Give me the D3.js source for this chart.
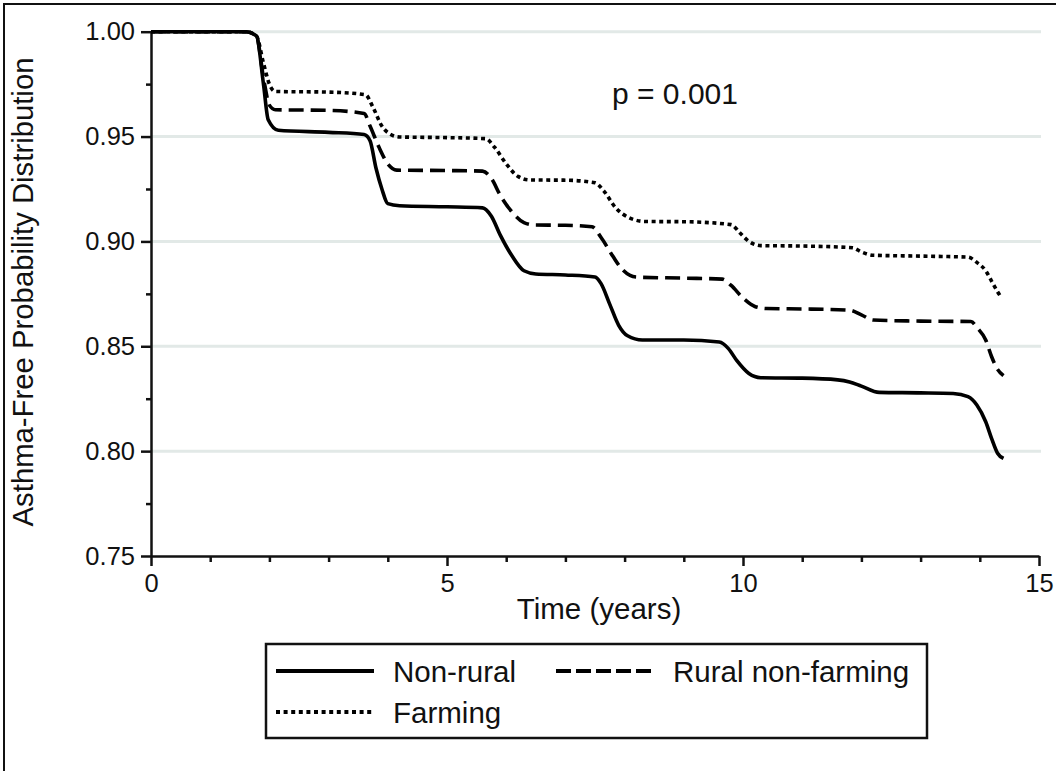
<!DOCTYPE html>
<html>
<head>
<meta charset="utf-8">
<script src="https://cdn.jsdelivr.net/npm/d3@7"></script>
<style>
  html, body { margin: 0; padding: 0; background: #fff; }
  svg { display: block; }
  text { font-family: "Liberation Sans", Arial, sans-serif; fill: #111; }
</style>
</head>
<body>
<svg id="chart" width="1056" height="771"></svg>
<script>
// ---- data ----
const seriesNames = ["Non-rural", "Rural non-farming", "Farming"];

const nonRural = [
  [0,1],[1.6,1],[1.78,0.998],[1.9,0.975],[1.98,0.958],[2.15,0.953],[3.0,0.952],[3.6,0.951],
  [3.7,0.948],[3.8,0.935],[3.9,0.925],[4.0,0.918],[4.2,0.917],[5.0,0.9165],[5.6,0.916],
  [5.75,0.912],[5.9,0.903],[6.1,0.893],[6.3,0.886],[6.5,0.8845],[7.0,0.884],[7.5,0.883],
  [7.6,0.88],[7.75,0.87],[7.9,0.86],[8.05,0.855],[8.3,0.853],[9.0,0.853],[9.6,0.852],
  [9.75,0.849],[9.9,0.843],[10.1,0.837],[10.3,0.835],[11.0,0.8348],[11.6,0.834],[11.8,0.833],
  [12.0,0.831],[12.3,0.828],[13.0,0.8278],[13.55,0.8275],[13.8,0.826],[13.95,0.822],
  [14.1,0.814],[14.2,0.806],[14.3,0.799],[14.4,0.7965]
];
const ruralNonFarming = [
  [0,1],[1.6,1],[1.78,0.998],[1.9,0.978],[2.0,0.965],[2.1,0.9628],[3.0,0.9625],[3.6,0.961],
  [3.7,0.955],[3.85,0.945],[4.0,0.937],[4.15,0.934],[5.0,0.9338],[5.6,0.9335],[5.75,0.93],
  [5.9,0.922],[6.1,0.914],[6.3,0.909],[6.5,0.9078],[7.0,0.9077],[7.45,0.907],[7.6,0.902],
  [7.8,0.893],[7.95,0.887],[8.2,0.883],[9.0,0.8825],[9.65,0.882],[9.8,0.879],[10.0,0.873],
  [10.2,0.869],[10.4,0.868],[11.0,0.8678],[11.8,0.8672],[12.0,0.865],[12.2,0.8625],
  [13.0,0.862],[13.85,0.8618],[13.95,0.859],[14.1,0.853],[14.2,0.845],[14.3,0.839],[14.4,0.836]
];
const farming = [
  [0,1],[1.6,1],[1.78,0.998],[1.9,0.985],[2.0,0.975],[2.1,0.9715],[3.0,0.9712],[3.62,0.970],
  [3.75,0.964],[3.9,0.955],[4.05,0.951],[4.2,0.9498],[5.0,0.9495],[5.65,0.949],[5.8,0.945],
  [6.0,0.937],[6.2,0.931],[6.4,0.9293],[7.0,0.9292],[7.5,0.928],[7.65,0.924],[7.85,0.916],
  [8.1,0.911],[8.35,0.9095],[9.0,0.9094],[9.8,0.908],[9.95,0.904],[10.1,0.9],[10.3,0.898],
  [11.0,0.8978],[11.85,0.897],[12.0,0.895],[12.2,0.8934],[13.0,0.893],[13.8,0.8925],
  [13.95,0.89],[14.1,0.886],[14.2,0.881],[14.3,0.876],[14.37,0.873]
];

const xTickValues = [0, 5, 10, 15];
const xMinorTicks = d3.range(0, 16, 1);
const yTickValues = [0.75, 0.80, 0.85, 0.90, 0.95, 1.00];
const yMinorTicks = [0.775, 0.825, 0.875, 0.925, 0.975];
const gridValues = [0.80, 0.85, 0.90, 0.95, 1.00];
const xTitle = "Time (years)";
const yTitle = "Asthma-Free Probability Distribution";
const pLabel = "p = 0.001";

// ---- layout ----
const svg = d3.select("#chart");
const x = d3.scaleLinear().domain([0, 15]).range([151, 1039]);
const y = d3.scaleLinear().domain([0.75, 1.0]).range([556, 31.7]);

// outer frame (top & left visible)
svg.append("rect").attr("x", 4).attr("y", 4).attr("width", 1100).attr("height", 820)
  .attr("fill", "none").attr("stroke", "#111").attr("stroke-width", 2);

// gridlines
svg.append("g").selectAll("line").data(gridValues).join("line")
  .attr("x1", x(0)).attr("x2", x(15) + 2)
  .attr("y1", d => y(d)).attr("y2", d => y(d))
  .attr("stroke", "#e2e9e7").attr("stroke-width", 3);

// minor ticks
svg.append("g").attr("transform", `translate(0,${y(0.75)})`)
  .call(d3.axisBottom(x).tickValues(xMinorTicks.filter(v => v % 5 !== 0)).tickSize(6).tickFormat(""))
  .call(g => g.select(".domain").remove())
  .call(g => g.selectAll("line").attr("stroke", "#111").attr("stroke-width", 2.5));
svg.append("g").attr("transform", `translate(${x(0)},0)`)
  .call(d3.axisLeft(y).tickValues(yMinorTicks).tickSize(5).tickFormat(""))
  .call(g => g.select(".domain").remove())
  .call(g => g.selectAll("line").attr("stroke", "#111").attr("stroke-width", 2.5));

// major axes
const xAxis = svg.append("g").attr("transform", `translate(0,${y(0.75)})`)
  .call(d3.axisBottom(x).tickValues(xTickValues).tickSize(10).tickSizeOuter(0).tickPadding(8).tickFormat(d3.format("d")));
xAxis.select(".domain").attr("stroke", "#111").attr("stroke-width", 2.5);
xAxis.selectAll("line").attr("stroke", "#111").attr("stroke-width", 2.5);
xAxis.selectAll("text").attr("font-size", 25.5).attr("font-family", "Liberation Sans, Arial, sans-serif").attr("fill", "#111");

const yAxis = svg.append("g").attr("transform", `translate(${x(0)},0)`)
  .call(d3.axisLeft(y).tickValues(yTickValues).tickSize(10).tickSizeOuter(0).tickPadding(6).tickFormat(d3.format(".2f")));
yAxis.select(".domain").attr("stroke", "#111").attr("stroke-width", 2.5);
yAxis.selectAll("line").attr("stroke", "#111").attr("stroke-width", 2.5);
yAxis.selectAll("text").attr("font-size", 25.5).attr("font-family", "Liberation Sans, Arial, sans-serif").attr("fill", "#111");

// titles
svg.append("text").attr("x", (x(0) + x(15)) / 2 + 4).attr("y", 619)
  .attr("text-anchor", "middle").attr("font-size", 29.5).text(xTitle);
svg.append("text").attr("transform", `translate(33,292) rotate(-90)`)
  .attr("text-anchor", "middle").attr("font-size", 29.3).text(yTitle);
svg.append("text").attr("x", 612).attr("y", 104).attr("font-size", 30).text(pLabel);

// lines
const styles = [
  { data: nonRural, dash: null },
  { data: ruralNonFarming, dash: "15,7" },
  { data: farming, dash: "4,3.6" }
];
const line = d3.line().x(d => x(d[0])).y(d => y(d[1])).curve(d3.curveMonotoneX);
svg.append("g").selectAll("path").data(styles).join("path")
  .attr("d", d => line(d.data))
  .attr("fill", "none").attr("stroke", "#000").attr("stroke-width", 3.6)
  .attr("stroke-dasharray", d => d.dash);

// legend
const lg = svg.append("g");
lg.append("rect").attr("x", 266).attr("y", 644).attr("width", 661).attr("height", 94)
  .attr("fill", "#fff").attr("stroke", "#111").attr("stroke-width", 2.5);
const legendItems = [
  { name: seriesNames[0], dash: null, lx: 276, ly: 671 },
  { name: seriesNames[1], dash: "15,5", lx: 556, ly: 671 },
  { name: seriesNames[2], dash: "4,3.6", lx: 276, ly: 712 }
];
legendItems.forEach(it => {
  lg.append("line").attr("x1", it.lx).attr("x2", it.lx + 98).attr("y1", it.ly).attr("y2", it.ly)
    .attr("stroke", "#000").attr("stroke-width", 4).attr("stroke-dasharray", it.dash);
  lg.append("text").attr("x", it.lx + 117).attr("y", it.ly + 11).attr("font-size", 29.5).text(it.name);
});
</script>
</body>
</html>
